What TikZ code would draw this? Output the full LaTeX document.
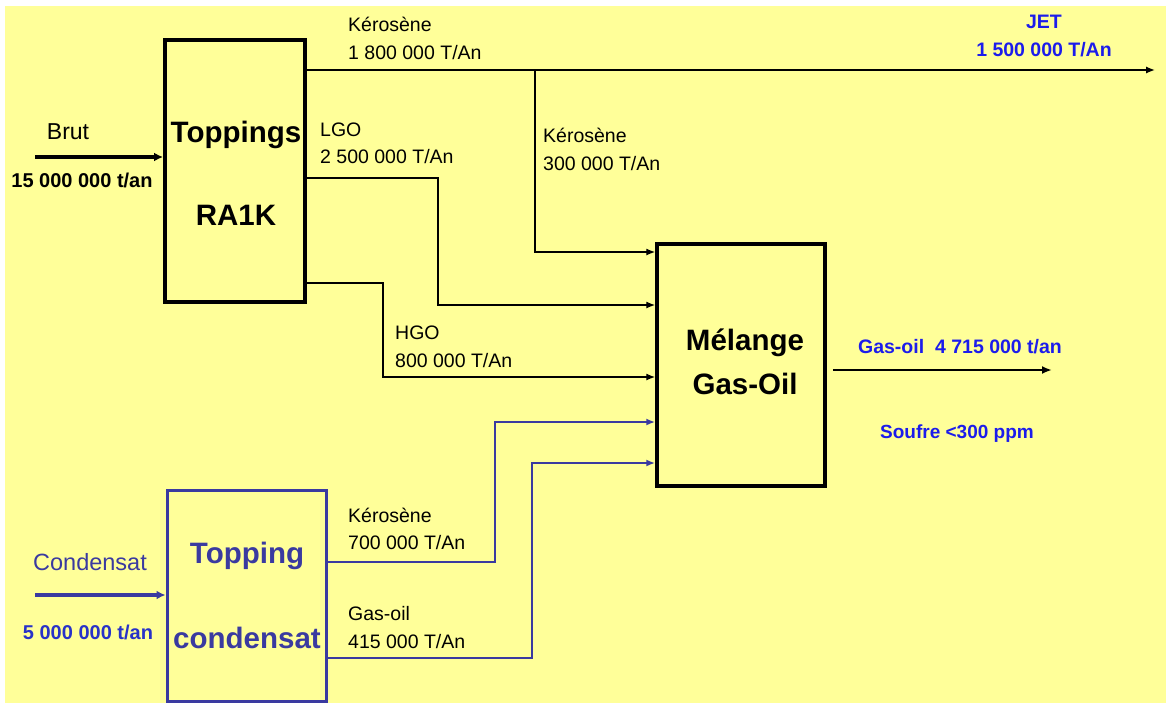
\documentclass[tikz,border=0pt]{standalone}
\usepackage{fontspec}
\setmainfont{Liberation Sans}
\usetikzlibrary{arrows.meta}
\definecolor{bgyellow}{RGB}{255,255,153}
\definecolor{jetblue}{RGB}{28,28,235}
\definecolor{condblue}{RGB}{58,58,160}
\definecolor{midblue}{RGB}{40,50,200}
\tikzset{
  unitbox/.style={draw, line width=4pt, inner sep=0pt},
  flow/.style={line width=1.3pt, -{Latex[length=9pt,width=7pt]}},
  bigflow/.style={line width=3.5pt, -{Latex[length=9pt,width=9pt]}},
  outflow/.style={line width=2.5pt, -{Latex[length=10pt,width=8pt]}},
  cflow/.style={line width=2.2pt, condblue, -{Latex[length=9pt,width=7pt]}},
  lbl/.style={anchor=west, align=left, inner sep=0pt, font=\fontsize{19.5}{27.5}\selectfont},
  bigtxt/.style={inner sep=0pt, font=\fontsize{29.5}{34}\selectfont\bfseries},
}
\begin{document}
\begin{tikzpicture}[x=1pt,y=-1pt]
\useasboundingbox (0,0) rectangle (1166,706);
\fill[bgyellow] (5,6) rectangle (1166,703);

% boxes
\node[unitbox, minimum width=140pt, minimum height=262pt] (top) at (235,171) {};
\node[unitbox, line width=3.5pt, minimum width=168pt, minimum height=242pt] (mel) at (741,365) {};
\node[unitbox, line width=3pt, draw=condblue, minimum width=159pt, minimum height=211pt] (cond) at (246.5,595.5) {};

% box texts
\node[bigtxt] (t1) at (236,135) {Toppings};
\node[bigtxt] (t2) at (236,215) {RA1K};
\node[bigtxt] (m1) at (745,343) {Mélange};
\node[bigtxt] (m2) at (745,384) {Gas-Oil};
\node[bigtxt, condblue] (c1) at (247,556) {Topping};
\node[bigtxt, condblue] (c2) at (247,638) {condensat};

% inputs
\coordinate (brutin) at (35,157);
\draw[bigflow] (brutin) -- (brutin -| top.west);
\node[font=\fontsize{23}{27}\selectfont, inner sep=0pt] (brut) at (68,132) {Brut};
\node[font=\fontsize{20}{24}\selectfont\bfseries, inner sep=0pt] (brutq) at (82,180) {15 000 000 t/an};

\coordinate (condin) at (35,595);
\draw[bigflow, condblue] (condin) -- (condin -| cond.west);
\node[font=\fontsize{23.5}{27}\selectfont, condblue, inner sep=0pt] (condl) at (90,562) {Condensat};
\node[font=\fontsize{20}{24}\selectfont\bfseries, midblue, inner sep=0pt] (condq) at (88,632) {5 000 000 t/an};

% kerosene -> JET
\coordinate (jetend) at (1155,70);
\draw[flow] (top.east |- jetend) -- (jetend);
\node[lbl] (k1) at (348,38.5) {Kérosène\\1 800 000 T/An};
\node[align=center, inner sep=0pt, jetblue, font=\fontsize{19.5}{27.5}\selectfont\bfseries] (jet) at (1044,36) {JET\\1 500 000 T/An};

% kerosene branch
\coordinate (kb) at (535,70);
\coordinate (kbin) at (535,252);
\draw[flow] (kb) -- (kbin) -- (kbin -| mel.west);
\node[lbl] (k2) at (543,149.5) {Kérosène\\300 000 T/An};

% LGO
\coordinate (lgo1) at (438,178);
\coordinate (lgo2) at (438,305);
\draw[flow] (top.east |- lgo1) -- (lgo1) -- (lgo2) -- (lgo2 -| mel.west);
\node[lbl] (lgo) at (320,143.5) {LGO\\2 500 000 T/An};

% HGO
\coordinate (hgo1) at (383,283);
\coordinate (hgo2) at (383,377);
\draw[flow] (top.east |- hgo1) -- (hgo1) -- (hgo2) -- (hgo2 -| mel.west);
\node[lbl] (hgo) at (395,347) {HGO\\800 000 T/An};

% condensat kerosene
\coordinate (ck1) at (495,562);
\coordinate (ck2) at (495,422);
\draw[cflow] (cond.east |- ck1) -- (ck1) -- (ck2) -- (ck2 -| mel.west);
\node[lbl] (k3) at (348,529) {Kérosène\\700 000 T/An};

% condensat gas-oil
\coordinate (cg1) at (532,658);
\coordinate (cg2) at (532,463);
\draw[cflow] (cond.east |- cg1) -- (cg1) -- (cg2) -- (cg2 -| mel.west);
\node[lbl] (go) at (348,627.5) {Gas-oil\\415 000 T/An};

% output
\coordinate (outend) at (1052,370);
\draw[outflow, shorten <=6pt] (mel.east |- outend) -- (outend);
\node[jetblue, inner sep=0pt, font=\fontsize{19.5}{24}\selectfont\bfseries] (outq) at (960,347) {Gas-oil\ \ 4 715 000 t/an};
\node[jetblue, inner sep=0pt, font=\fontsize{19}{24}\selectfont\bfseries] (souf) at (957,434) {Soufre <300 ppm};
\end{tikzpicture}
\end{document}
